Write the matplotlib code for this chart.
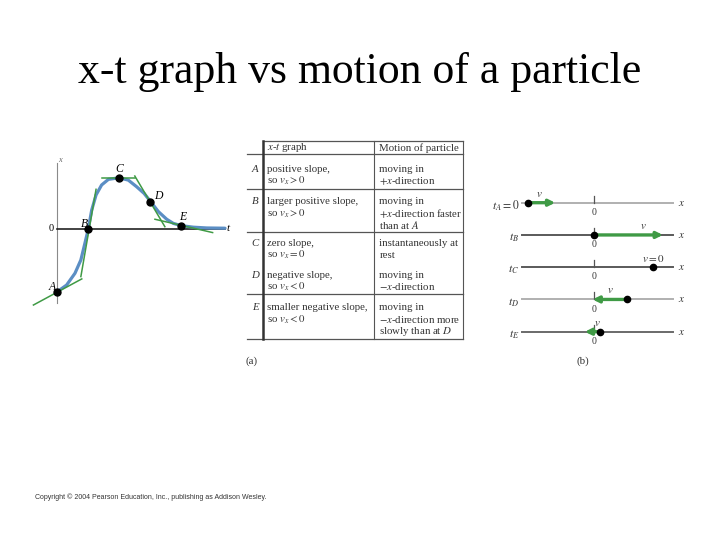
import matplotlib.pyplot as plt

plt.rcParams['mathtext.fontset'] = 'stix'
SERIF = 'Liberation Serif'

title = "x-t graph vs motion of a particle"
copyright_text = "Copyright \u00a9 2004 Pearson Education, Inc., publishing as Addison Wesley."

# x-t curve (t, x)
t_curve = [0, 0.30, 0.57, 0.76, 0.89, 1.0, 1.11, 1.25, 1.43, 1.65, 1.99, 2.29,
           2.56, 2.80, 3.01, 3.26, 3.53, 3.74, 4.0, 4.39, 4.82, 5.41]
x_curve = [-2.45, -2.19, -1.73, -1.21, -0.56, 0, 0.74, 1.33, 1.72, 1.94, 2.0, 1.91,
           1.65, 1.39, 1.07, 0.68, 0.38, 0.22, 0.13, 0.07, 0.04, 0.03]

point_names = ['A', 'B', 'C', 'D', 'E']
point_t = [0, 1, 2, 3, 4]
point_x = [-2.45, 0, 2.0, 1.07, 0.13]
label_t = [-0.18, 0.89, 2.0, 3.25, 4.05]
label_x = [-2.25, 0.18, 2.33, 1.30, 0.46]

# tangent segments: (t0, x0, t1, x1)
tangents = [(-0.77, -2.97, 0.79, -1.95),
            (0.76, -1.86, 1.25, 1.55),
            (1.43, 2.0, 2.5, 2.0),
            (2.5, 2.07, 3.47, 0.09),
            (3.15, 0.38, 5.01, -0.14)]

# table text
header = ["$x$-$t$ graph", "Motion of particle"]
graph_col = [["positive slope,", "so $v_x > 0$"],
             ["larger positive slope,", "so $v_x > 0$"],
             ["zero slope,", "so $v_x = 0$"],
             ["negative slope,", "so $v_x < 0$"],
             ["smaller negative slope,", "so $v_x < 0$"]]
motion_col = [["moving in", "$+x$-direction"],
              ["moving in", "$+x$-direction faster", "than at $A$"],
              ["instantaneously at", "rest"],
              ["moving in", "$-x$-direction"],
              ["moving in", "$-x$-direction more", "slowly than at $D$"]]
row_y = [169.3, 201.7, 243.3, 275, 307.7]
rule_y = [154, 189, 231.7, 294.3, 339]

# motion diagram
time_labels = ['$t_A = 0$', '$t_B$', '$t_C$', '$t_D$', '$t_E$']
positions = [-2.3, 0, 2.05, 1.15, 0.2]
velocities = [0.95, 2.4, 0, -1.2, -0.52]
v_labels = ['$v$', '$v$', '$v = 0$', '$v$', '$v$']
v_label_x = [-1.91, 1.72, 2.06, 0.56, 0.11]
line_colors = ['#b0b0b0', '#5a5a5a', '#5a5a5a', '#b0b0b0', '#6a6a6a']

blue = '#5b8ec4'
green = '#3f9a45'
W, H = 720, 540

fig = plt.figure(figsize=(7.2, 5.4), dpi=100)
fig.patch.set_facecolor('white')


def px_axes(x0, y0, x1, y1):
    return fig.add_axes([x0 / W, 1 - y1 / H, (x1 - x0) / W, (y1 - y0) / H])


fig.text(0.5, 1 - 72 / H, title, ha='center', va='center', fontsize=31.5, family=SERIF)

# ---- (a) x-t graph
ax = px_axes(26.3, 152.2, 243.3, 310.9)
ax.set_xlim(-1, 6)
ax.set_ylim(-3.2, 3.0)
ax.axis('off')
ax.plot([0, 0], [-2.89, 2.58], color='#8a8a8a', lw=0.8)
ax.plot([0, 5.41], [0, 0], color='#222222', lw=1.2)
ax.plot(t_curve, x_curve, color=blue, lw=2.3, solid_capstyle='round')
for t0, x0, t1, x1 in tangents:
    ax.plot([t0, t1], [x0, x1], color=green, lw=1.1, zorder=3)
ax.plot(point_t, point_x, 'o', color='black', ms=5, zorder=4)
for n, lt, lx in zip(point_names, label_t, label_x):
    ax.text(lt, lx, n, ha='center', va='center', fontsize=8.5, style='italic', family=SERIF)
ax.text(0.1, 2.7, 'x', fontsize=6, style='italic', family=SERIF, color='#666666',
        ha='center', va='center')
ax.text(5.52, 0, 't', fontsize=8, style='italic', family=SERIF, ha='center', va='center')
ax.text(-0.12, 0, '0', fontsize=7.5, family=SERIF, ha='right', va='center')

# ---- (a) table
tb = px_axes(240, 135, 470, 370)
tb.set_xlim(240, 470)
tb.set_ylim(370, 135)
tb.axis('off')
rule = '#555555'
tb.plot([263.3, 462.7], [140.7, 140.7], color=rule, lw=0.9)
for y in rule_y:
    tb.plot([247.3, 462.7], [y, y], color=rule, lw=0.9)
tb.plot([263.3, 263.3], [140.7, 339], color='#333333', lw=1.8)
tb.plot([374, 374], [140.7, 339], color=rule, lw=0.8)
tb.plot([462.7, 462.7], [140.7, 339], color=rule, lw=0.8)

fs = 7.8
tc = '#333333'
tb.text(267.3, 148, header[0], fontsize=fs, family=SERIF, color=tc, va='center')
tb.text(379.3, 148, header[1], fontsize=fs, family=SERIF, color=tc, va='center')
for name, y0, gl, ml in zip(point_names, row_y, graph_col, motion_col):
    tb.text(255, y0, name, fontsize=fs, family=SERIF, style='italic', color=tc,
            ha='center', va='center')
    for i, s in enumerate(gl):
        tb.text(267.3, y0 + i * 11.7, s, fontsize=fs, family=SERIF, color=tc, va='center')
    for i, s in enumerate(ml):
        tb.text(379.3, y0 + i * 11.7, s, fontsize=fs, family=SERIF, color=tc, va='center')
tb.text(252, 361.5, '(a)', fontsize=fs, family=SERIF, color=tc, ha='center', va='center')

# ---- (b) motion diagram
mx = px_axes(493.5, 176.9, 694.5, 357.5)
mx.set_xlim(-3.5, 3.5)
mx.set_ylim(4.8, -0.8)
mx.axis('off')
for row in range(5):
    mx.plot([-2.52, 2.74], [row, row], color=line_colors[row], lw=1.4)
    mx.plot([0, 0], [row - 0.22, row], color='#555555', lw=0.9)
    mx.text(0, row + 0.3, '0', fontsize=7, family=SERIF, color=tc, ha='center', va='center')
    mx.text(3.06, row, '$x$', fontsize=8, color=tc, ha='center', va='center')
    mx.text(-2.6, row + 0.08, time_labels[row], fontsize=8.5, color=tc, ha='right', va='center')
    if velocities[row] != 0:
        mx.annotate('', xy=(positions[row] + velocities[row], row),
                    xytext=(positions[row], row),
                    arrowprops=dict(arrowstyle='-|>', color=green, lw=2.4,
                                    mutation_scale=9, shrinkA=0, shrinkB=0))
    mx.plot(positions[row], row, 'o', color='black', ms=4.5, zorder=5)
    mx.text(v_label_x[row], row - 0.28, v_labels[row], fontsize=8, color=tc,
            ha='center', va='center')
mx.text(-0.4, 4.9, '(b)', fontsize=fs, family=SERIF, color=tc, ha='center', va='center')

fig.text(35 / W, 1 - 497 / H, copyright_text, fontsize=5, family='Liberation Sans',
         color='#333333', va='center')

fig.savefig('out.png', dpi=100)
